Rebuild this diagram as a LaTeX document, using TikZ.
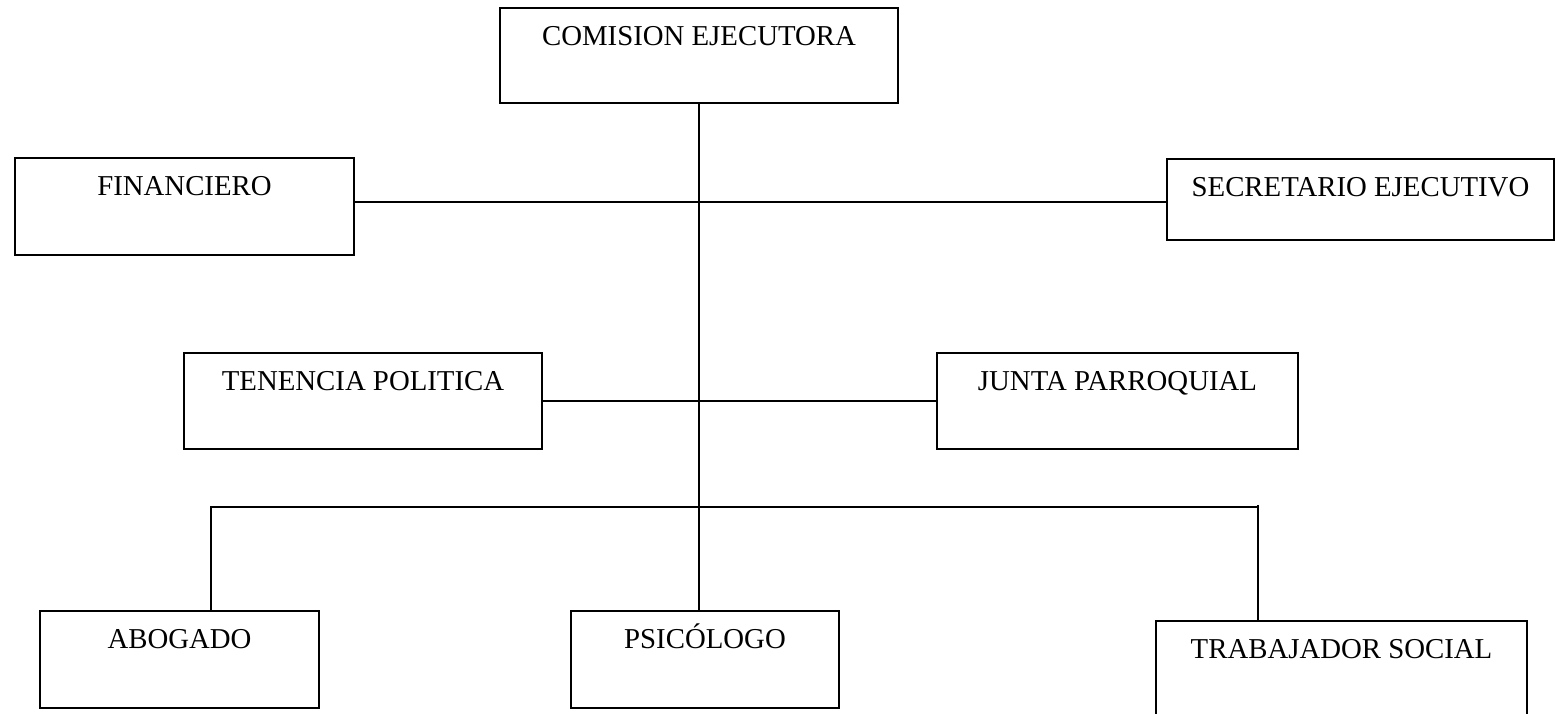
\documentclass[tikz,border=0pt]{standalone}
\usepackage{fontspec}
\setmainfont{Liberation Serif}
\usetikzlibrary{positioning, calc}

\tikzset{
  unit/.style={draw, line width=2pt, inner sep=0pt, anchor=north west,
    text height=37pt, font=\fontsize{28.8}{31}\selectfont},
  link/.style={line width=2pt}
}

\begin{document}
\begin{tikzpicture}[x=1pt, y=-1pt]
    \useasboundingbox (0,0) rectangle (1555,713);
    % nivel superior
    \node[unit, minimum width=398pt, text depth=58pt] (comision) at (499,7) {COMISION EJECUTORA};
    % asesores
    \node[unit, minimum width=339pt, text depth=60pt] (financiero) at (14,157) {FINANCIERO};
    \node[unit, minimum width=387pt, text depth=44pt] (secretario) at (1166,158) {SECRETARIO EJECUTIVO};
    % apoyo local
    \node[unit, minimum width=358pt, text depth=59pt] (tenencia) at (183,352) {TENENCIA POLITICA};
    \node[unit, minimum width=361pt, text depth=59pt] (junta) at (936,352) {JUNTA PARROQUIAL};
    % equipo tecnico
    \node[unit, minimum width=279pt, text depth=60pt] (abogado) at (39,610) {ABOGADO};
    \node[unit, minimum width=268pt, text depth=60pt] (psicologo) at (570,610) {PSICÓLOGO};
    \node[unit, minimum width=371pt, text depth=90pt] (trabajador) at (1155,620) {TRABAJADOR SOCIAL};
    % lineas
    \coordinate (upper) at (698,202);
    \coordinate (left) at (211,507);
    \coordinate (right) at (1258,507);
    \draw[link] (comision.south) -- (comision.south |- psicologo.north);
    \draw[link] (financiero.east |- upper) -- (secretario.west |- upper);
    \draw[link] (tenencia.east) -- (junta.west);
    \draw[link] (abogado.north -| left) -- (left) -- (right) -- ($(right)+(0,-2)$);
    \draw[link] (right) -- (right |- trabajador.north);
  \end{tikzpicture}
\end{document}
